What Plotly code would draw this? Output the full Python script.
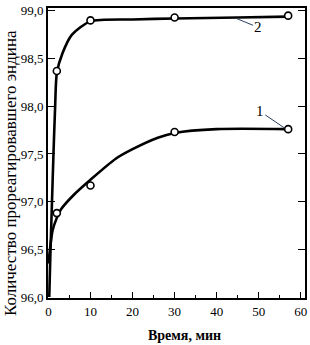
import plotly.graph_objects as go

# Measured points
t_pts1 = [2, 10, 30, 57]
y_pts1 = [96.88, 97.17, 97.73, 97.76]
t_pts2 = [2, 10, 30, 57]
y_pts2 = [98.37, 98.9, 98.93, 98.95]

# Smooth curves
t_c1 = [0, 0.5, 1, 2, 3, 6, 10, 16, 20, 26, 30, 40, 57]
y_c1 = [96.35, 96.55, 96.7, 96.83, 96.92, 97.07, 97.23, 97.45, 97.55, 97.67, 97.72, 97.76, 97.76]
t_c2 = [0.2, 0.5, 0.85, 1.2, 1.6, 2, 3.3, 5.6, 10, 20, 30, 45, 57]
y_c2 = [96.0, 96.5, 97.0, 97.5, 98.0, 98.35, 98.55, 98.75, 98.89, 98.91, 98.92, 98.93, 98.94]

x_ticks = [0, 10, 20, 30, 40, 50, 60]
y_ticks = [96.0, 96.5, 97.0, 97.5, 98.0, 98.5, 99.0]
y_tick_text = ["96,0", "96,5", "97,0", "97,5", "98,0", "98,5", "99,0"]

serif = "Liberation Serif"
fig = go.Figure()
for tc, yc in [(t_c1, y_c1), (t_c2, y_c2)]:
    fig.add_trace(go.Scatter(x=tc, y=yc, mode="lines",
                             line=dict(color="black", width=2.6, shape="spline", smoothing=0.7),
                             showlegend=False, hoverinfo="skip"))
for tp, yp in [(t_pts1, y_pts1), (t_pts2, y_pts2)]:
    fig.add_trace(go.Scatter(x=tp, y=yp, mode="markers",
                             marker=dict(symbol="circle", size=7, color="white",
                                         line=dict(color="black", width=1.6)),
                             showlegend=False))

fig.update_layout(
    width=310, height=345,
    margin=dict(l=48, r=3, t=3, b=47),
    paper_bgcolor="white", plot_bgcolor="white",
    font=dict(family=serif, color="black", size=13),
    xaxis=dict(range=[-0.1, 61], tickvals=x_ticks, ticks="inside", ticklen=6,
               tickcolor="black", showgrid=False, zeroline=False,
               showline=True, linecolor="black", linewidth=1.8, mirror=True,
               minor=dict(dtick=5, tick0=0, ticks="inside", ticklen=3, tickcolor="black"),
               tickfont=dict(family=serif, size=13)),
    yaxis=dict(range=[95.99, 99.03], tickvals=y_ticks, ticktext=y_tick_text,
               ticks="inside", ticklen=7, tickcolor="black", showgrid=False,
               zeroline=False, showline=True, linecolor="black", linewidth=1.8,
               mirror="ticks", tickfont=dict(family=serif, size=13)),
    annotations=[
        dict(x=44.7, y=98.92, xref="x", yref="y", text="2", showarrow=True,
             arrowhead=0, arrowwidth=1, ax=22, ay=9, font=dict(size=15, family=serif)),
        dict(x=56.2, y=97.77, xref="x", yref="y", text="1", showarrow=True,
             arrowhead=0, arrowwidth=1, ax=-25, ay=-17, font=dict(size=15, family=serif)),
        dict(x=0.53, y=-0.095, xref="paper", yref="paper", text="<b>Время, мин</b>",
             showarrow=False, yanchor="top", font=dict(size=14, family=serif)),
        dict(x=-0.145, y=0.43, xref="paper", yref="paper",
             text="Количество прореагировавшего эндина", textangle=-90,
             showarrow=False, xanchor="center", yanchor="middle",
             font=dict(size=17, family=serif)),
    ],
)
fig.write_html("out.html")
